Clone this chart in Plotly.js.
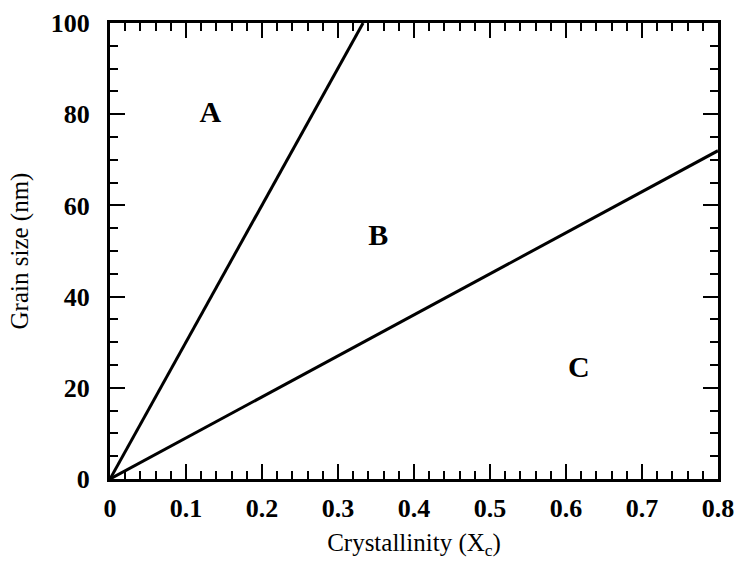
<!DOCTYPE html>
<html>
<head>
<meta charset="utf-8">
<script src="https://cdn.plot.ly/plotly-3.0.1.min.js"></script>
<style>body{margin:0;background:#fff}#chart{width:739px;height:573px}</style>
</head>
<body>
<div id="chart"></div>
<script>
// Boundary lines (crystallinity vs grain size)
const upperX = [0, 0.333];
const upperY = [0, 100];
const lowerX = [0, 0.8];
const lowerY = [0, 72];
// Region labels
const regionLabels = ['A', 'B', 'C'];
const regionX = [0.132, 0.353, 0.617];
const regionY = [80, 53, 24];
// Tick labels
const xTickVals = [0, 0.1, 0.2, 0.3, 0.4, 0.5, 0.6, 0.7, 0.8];
const xTickText = ['0', '0.1', '0.2', '0.3', '0.4', '0.5', '0.6', '0.7', '0.8'];
const yTickVals = [0, 20, 40, 60, 80, 100];
const yTickText = ['0', '20', '40', '60', '80', '100'];

const serif = 'Liberation Serif, Times New Roman, serif';
const traces = [
  {x: upperX, y: upperY, mode: 'lines', line: {color: '#000', width: 3}, hoverinfo: 'skip'},
  {x: lowerX, y: lowerY, mode: 'lines', line: {color: '#000', width: 3}, hoverinfo: 'skip'},
  {x: regionX, y: regionY, mode: 'text', text: regionLabels,
   textfont: {family: serif, size: 30, color: '#000', weight: 'bold'}, hoverinfo: 'skip'}
];
const axisCommon = {
  showgrid: false, zeroline: false, showline: true, linecolor: '#000', linewidth: 3,
  mirror: 'ticks', ticks: 'inside', ticklen: 15, tickwidth: 2, tickcolor: '#000',
  tickmode: 'array',
  tickfont: {family: serif, size: 26, color: '#000', weight: 'bold'}
};
const layout = {
  width: 739, height: 573,
  margin: {l: 110, r: 21, t: 23, b: 94},
  paper_bgcolor: '#fff', plot_bgcolor: '#fff',
  showlegend: false,
  xaxis: Object.assign({}, axisCommon, {
    range: [0, 0.8], tickvals: xTickVals, ticktext: xTickText,
    ticklabelstandoff: 4,
    minor: {tick0: 0, dtick: 0.02, ticks: 'inside', ticklen: 8, tickwidth: 2, tickcolor: '#000'},
    title: {text: 'Crystallinity (X<sub>c</sub>)', font: {family: serif, size: 25, color: '#000'}, standoff: 12}
  }),
  yaxis: Object.assign({}, axisCommon, {
    range: [0, 100], tickvals: yTickVals, ticktext: yTickText,
    ticklabelstandoff: 12,
    minor: {tick0: 0, dtick: 5, ticks: 'inside', ticklen: 8, tickwidth: 2, tickcolor: '#000'},
    title: {text: 'Grain size (nm)', font: {family: serif, size: 25, color: '#000'}, standoff: 16}
  })
};
Plotly.newPlot('chart', traces, layout, {staticPlot: true});
</script>
</body>
</html>
